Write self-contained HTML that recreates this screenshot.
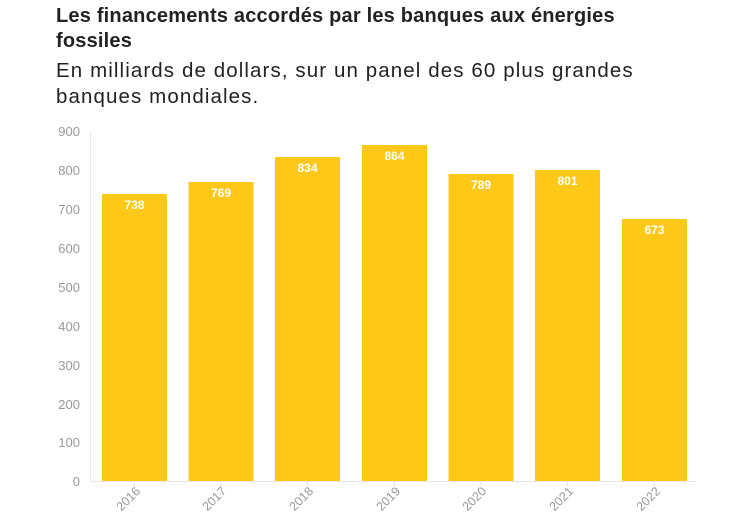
<!DOCTYPE html>
<html><head><meta charset="utf-8"><style>
body{margin:0;background:#fff;width:741px;height:531px;overflow:hidden;font-family:"Liberation Sans",sans-serif}
.t{position:absolute;left:56px;top:4px;font-size:20px;font-weight:bold;color:#222;line-height:25px;width:600px;letter-spacing:0.2px}
.s{position:absolute;left:56px;top:58px;font-size:20.5px;color:#222;line-height:26px;width:640px;letter-spacing:1.1px}
</style></head><body>
<div class="t">Les financements accordés par les banques aux énergies fossiles</div>
<div class="s">En milliards de dollars, sur un panel des 60 plus grandes<br>banques mondiales.</div>
<svg width="741" height="531" style="position:absolute;left:0;top:0" font-family="Liberation Sans, sans-serif">
<g stroke="#e6e6e6" stroke-width="1">
<line x1="90.5" y1="131" x2="90.5" y2="481"/>
<line x1="90" y1="481.5" x2="697" y2="481.5"/>
</g>
<g font-size="13" fill="#999" text-anchor="end">
<text x="80" y="136">900</text><text x="80" y="175">800</text><text x="80" y="214">700</text>
<text x="80" y="253">600</text><text x="80" y="292">500</text><text x="80" y="331">400</text>
<text x="80" y="370">300</text><text x="80" y="409">200</text><text x="80" y="447">100</text>
<text x="80" y="486">0</text>
</g>
<g fill="#fdc818">
<rect x="102" y="194" width="65" height="287"/>
<rect x="188.5" y="182" width="65" height="299"/>
<rect x="275" y="157" width="65" height="324"/>
<rect x="362" y="145" width="65" height="336"/>
<rect x="448.5" y="174" width="65" height="307"/>
<rect x="535" y="170" width="65" height="311"/>
<rect x="622" y="219" width="65" height="262"/>
</g>
<g font-size="12" font-weight="bold" fill="#fff" text-anchor="middle">
<text x="134.5" y="209">738</text><text x="221" y="197">769</text><text x="307.5" y="172">834</text>
<text x="394.5" y="160">864</text><text x="481" y="189">789</text><text x="567.5" y="185">801</text>
<text x="654.5" y="234">673</text>
</g>
<g font-size="12.5" fill="#999" text-anchor="end">
<text transform="translate(141,492) rotate(-45)">2016</text>
<text transform="translate(227,492) rotate(-45)">2017</text>
<text transform="translate(314,492) rotate(-45)">2018</text>
<text transform="translate(401,492) rotate(-45)">2019</text>
<text transform="translate(487,492) rotate(-45)">2020</text>
<text transform="translate(574,492) rotate(-45)">2021</text>
<text transform="translate(661,492) rotate(-45)">2022</text>
</g>
<g stroke="#e6e6e6"><line x1="134.5" y1="481" x2="134.5" y2="486"/><line x1="221" y1="481" x2="221" y2="486"/><line x1="307.5" y1="481" x2="307.5" y2="486"/><line x1="394.5" y1="481" x2="394.5" y2="486"/><line x1="481" y1="481" x2="481" y2="486"/><line x1="567.5" y1="481" x2="567.5" y2="486"/><line x1="654.5" y1="481" x2="654.5" y2="486"/></g>
</svg>
</body></html>
